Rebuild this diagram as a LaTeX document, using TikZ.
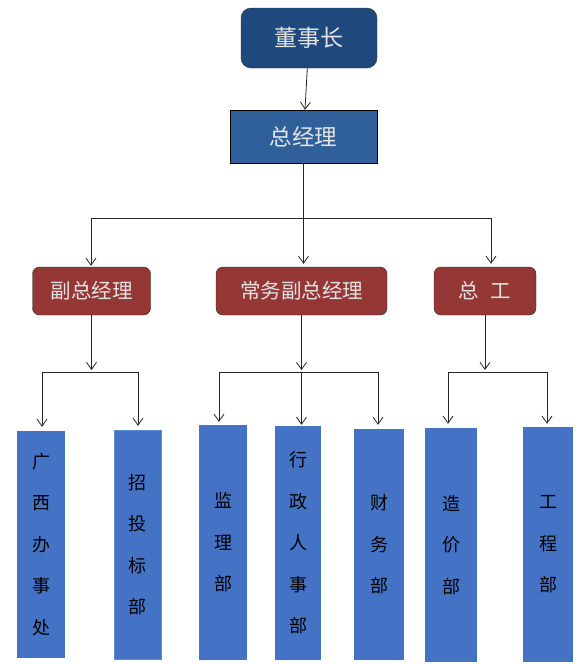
\documentclass[tikz,border=0pt]{standalone}
\usepackage{fontspec}
\newfontfamily\cjk{Noto Sans CJK SC}
\usepackage{tikz}
\usetikzlibrary{arrows.meta, positioning, calc}
\definecolor{boardblue}{HTML}{1F497D}
\definecolor{gmblue}{HTML}{30609A}
\definecolor{vpred}{HTML}{953735}
\definecolor{deptblue}{HTML}{4472C4}
\definecolor{deptedge}{HTML}{5B8DD5}
\definecolor{lighttext}{HTML}{E4E4E4}
\tikzset{
    boardbox/.style={rectangle, draw=black!80, fill=boardblue, rounded corners=10pt, inner sep=0pt, text=lighttext, font=\cjk\fontsize{23}{27}\selectfont},
    gmbox/.style={rectangle, draw=black, fill=gmblue, inner sep=0pt, text=lighttext, font=\cjk\fontsize{22.5}{26}\selectfont},
    vpbox/.style={rectangle, draw=black!85, fill=vpred, rounded corners=7pt, inner sep=0pt, minimum height=48pt, text=lighttext, font=\cjk\fontsize{20.5}{24}\selectfont},
    deptbox/.style={rectangle, fill=deptblue, inner sep=0pt, align=center, text=black, font=\cjk\fontsize{18}{41.5}\selectfont},
    line/.style={line width=0.8pt, draw=black!85},
    arrow/.style={line, -{Straight Barb[length=7pt, width=10pt]}}
}

\begin{document}
\begin{tikzpicture}[x=1pt, y=-1pt]
    \useasboundingbox (0,0) rectangle (580,664);

    % top
    \node[boardbox, minimum width=136pt, minimum height=60pt] (board) at (309,38) {董事长};
    \node[gmbox, minimum width=147pt, minimum height=53pt] (gm) at (303.5,136.5) {总经理};

    % second level
    \node[vpbox, minimum width=118pt] (vp1) at (91.5,291) {副总经理};
    \node[vpbox, minimum width=171pt] (vp2) at (301.5,291) {常务副总经理};
    \node[vpbox, minimum width=102pt] (vp3) at (485,291) {总\hspace{12pt}工};

    % departments
    \node[deptbox, minimum width=48pt, minimum height=227pt] (gx) at (41,544.5) {广\\西\\办\\事\\处};
    \node[deptbox, draw=deptedge, minimum width=47pt, minimum height=229pt] (zt) at (137.5,544.5) {招\\投\\标\\部};
    \node[deptbox, minimum width=48pt, minimum height=235pt] (jl) at (223,542.5) {监\\理\\部};
    \node[deptbox, minimum width=46pt, minimum height=234pt] (xz) at (298,543) {行\\政\\人\\事\\部};
    \node[deptbox, minimum width=50pt, minimum height=231pt] (cw) at (379,544.5) {财\\务\\部};
    \node[deptbox, minimum width=52pt, minimum height=234pt] (zj) at (451,545) {造\\价\\部};
    \node[deptbox, minimum width=50pt, minimum height=235pt] (gc) at (548,544.5) {工\\程\\部};

    % branch points
    \coordinate (top-l) at (91,218);
    \coordinate (top-r) at (491,218);
    \coordinate (a-l) at (42,372);
    \coordinate (a-r) at (138,372);
    \coordinate (b-l) at (219,372);
    \coordinate (b-r) at (378,372);
    \coordinate (c-l) at (448,372);
    \coordinate (c-r) at (547,372);

    \draw[arrow] (board) -- (gm);
    \draw[line] (gm.south) -- (gm.south |- top-l);
    \draw[line] (top-l) -- (top-r);
    \draw[arrow, shorten >=1pt] (top-l) -- (top-l |- vp1.north);
    \draw[arrow, shorten >=3pt] (gm.south |- top-l) -- (gm.south |- vp2.north);
    \draw[arrow, shorten >=3pt] (top-r) -- (top-r |- vp3.north);

    \draw[arrow, shorten >=2pt] (vp1.south) -- (vp1.south |- a-l);
    \draw[line] (a-l) -- (a-r);
    \draw[arrow, shorten >=4pt] (a-l) -- (a-l |- gx.north);
    \draw[arrow, shorten >=4pt] (a-r) -- (a-r |- zt.north);

    \draw[arrow, shorten >=2pt] (vp2.south) -- (vp2.south |- b-l);
    \draw[line] (b-l) -- (b-r);
    \draw[arrow, shorten >=3pt] (b-l) -- (b-l |- jl.north);
    \draw[arrow, shorten >=1pt] (vp2.south |- b-l) -- (vp2.south |- xz.north);
    \draw[arrow, shorten >=4pt] (b-r) -- (b-r |- cw.north);

    \draw[arrow, shorten >=2pt] (vp3.south) -- (vp3.south |- c-l);
    \draw[line] (c-l) -- (c-r);
    \draw[arrow, shorten >=4pt] (c-l) -- (c-l |- zj.north);
    \draw[arrow, shorten >=3pt] (c-r) -- (c-r |- gc.north);
\end{tikzpicture}
\end{document}
